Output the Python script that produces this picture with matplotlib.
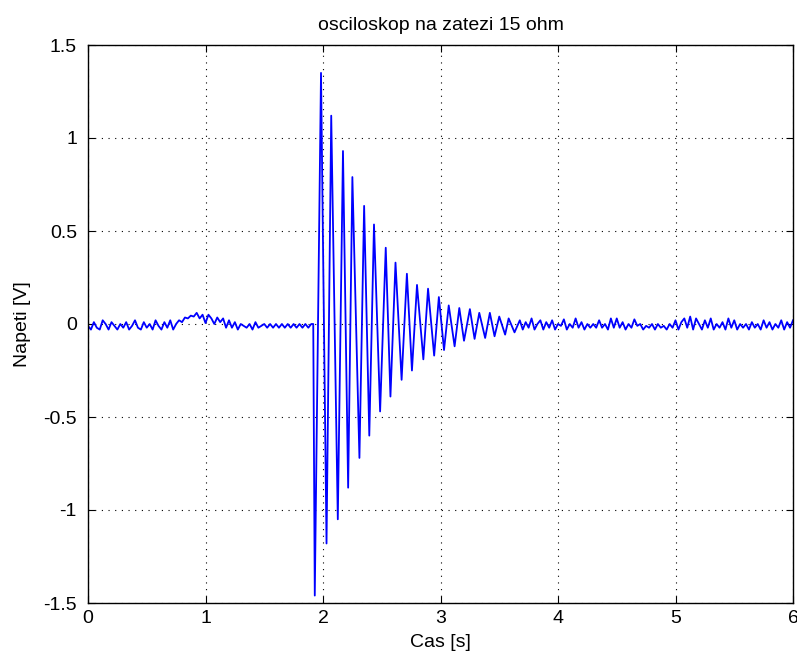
import numpy as np
import matplotlib
matplotlib.use("Agg")
import matplotlib.pyplot as plt

plt.rcParams['font.family'] = ['Liberation Sans', 'DejaVu Sans']

# klidovy sum pred zakmitem (krok 0.025 s od t = 0)
dt = 0.025
pre_vals = [-0.01, -0.03, 0.01, -0.02, -0.03, 0.02, 0.0, -0.03, 0.01, -0.01,
            -0.03, 0.0, -0.02, 0.01, -0.03, -0.01, 0.02, -0.02, -0.03, 0.01,
            -0.02, 0.0, -0.03, 0.02, -0.01, -0.03, 0.01, -0.02, 0.02, -0.03,
            0.0, 0.02, 0.01, 0.035, 0.03, 0.045, 0.04, 0.06, 0.03, 0.05,
            0.005, 0.05, 0.03, 0.0, 0.035, 0.01, 0.03, -0.02, 0.02, -0.02,
            0.01, -0.03, 0.0, -0.01, -0.02, 0.0, -0.03, 0.01, -0.02, -0.01,
            0.0, -0.02, 0.0, -0.02, 0.0, -0.02, 0.0, -0.02, 0.0, -0.02,
            0.0, -0.02, 0.0, -0.02, 0.0, -0.02, 0.0]

# extremy tlumeneho kmitu
burst_t = [1.917, 1.930, 1.983, 2.030, 2.070, 2.126, 2.170, 2.214, 2.250, 2.310,
           2.350, 2.394, 2.434, 2.486, 2.534, 2.574, 2.617, 2.669, 2.714, 2.757,
           2.800, 2.854, 2.894, 2.946, 2.986, 3.030, 3.070, 3.120, 3.160, 3.200,
           3.250, 3.290, 3.330, 3.380, 3.420, 3.460, 3.500, 3.550, 3.580, 3.630]
burst_v = [0.0, -1.46, 1.35, -1.18, 1.12, -1.05, 0.93, -0.88, 0.79, -0.72,
           0.635, -0.60, 0.535, -0.47, 0.41, -0.39, 0.33, -0.30, 0.27, -0.25,
           0.21, -0.19, 0.19, -0.17, 0.145, -0.14, 0.10, -0.12, 0.086, -0.09,
           0.08, -0.08, 0.06, -0.075, 0.06, -0.066, 0.04, -0.057, 0.03, -0.045]

# sum po odezneni (od t = 3.675)
post_start = 3.675
post_vals = [0.02, -0.03, 0.01, -0.02, 0.03, -0.03, 0.0, 0.02, -0.03, 0.01,
             -0.02, 0.02, -0.03, 0.0, -0.01, 0.025, -0.03, 0.0, -0.02, 0.03,
             -0.02, 0.01, -0.03, 0.0, -0.02, 0.0, -0.02, 0.02, -0.02, 0.0,
             -0.03, 0.03, -0.02, 0.03, -0.02, 0.01, -0.03, 0.0, -0.02, 0.025,
             -0.01, 0.0, -0.03, -0.01, -0.02, 0.0, -0.03, 0.0, -0.02, -0.01,
             -0.03, 0.0, -0.02, 0.02, -0.03, 0.01, 0.03, -0.02, 0.04, -0.03,
             0.03, 0.0, -0.03, 0.02, -0.02, 0.03, -0.03, 0.0, -0.02, 0.01,
             -0.03, 0.03, -0.02, 0.02, -0.03, 0.0, -0.02, 0.0, -0.03, 0.01,
             -0.02, 0.0, -0.03, 0.02, -0.02, 0.01, -0.03, 0.0, -0.02, 0.02,
             -0.03, 0.01, -0.02, 0.02]

t = np.concatenate([np.arange(len(pre_vals)) * dt,
                    burst_t,
                    post_start + np.arange(len(post_vals)) * dt])
u = np.concatenate([pre_vals, burst_v, post_vals])

fig = plt.figure(figsize=(7.97, 6.59), dpi=100)
ax = fig.add_axes([88 / 797, 56 / 659, 705 / 797, 558 / 659])

ax.plot(t, u, color=(0, 0, 1), linewidth=1.3)

ax.set_xlim(0, 6)
ax.set_ylim(-1.5, 1.5)
ax.set_xticks(range(7))
ax.set_yticks([-1.5, -1, -0.5, 0, 0.5, 1, 1.5])
ax.set_yticklabels(['-1.5', '-1', '-0.5', '0', '0.5', '1', '1.5'])
ax.grid(True, color='black', linestyle=(0, (1, 5)), linewidth=0.8)
ax.tick_params(direction='in', length=5, top=True, right=True, labelsize=14)
ax.tick_params(axis='x', pad=5)
ax.tick_params(axis='y', pad=8)
for s in ax.spines.values():
    s.set_linewidth(1.0)

ax.set_xlabel('Cas [s]', fontsize=14, labelpad=5)
ax.set_ylabel('Napeti [V]', fontsize=14, labelpad=9)
ax.set_title('osciloskop na zatezi 15 ohm', fontsize=14, pad=11)

fig.savefig('out.png', dpi=100)
